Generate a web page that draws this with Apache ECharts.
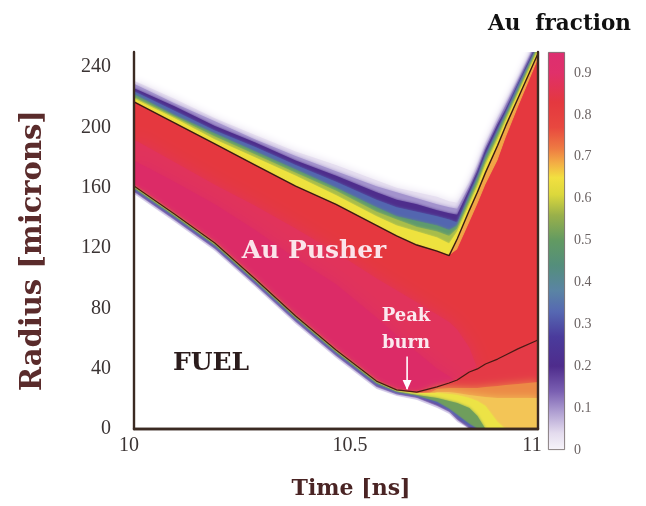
<!DOCTYPE html>
<html><head><meta charset="utf-8">
<script src="https://cdn.jsdelivr.net/npm/echarts@6/dist/echarts.min.js"></script>
<style>html,body{margin:0;padding:0;background:#fff}#c{width:646px;height:506px}</style>
</head><body><div id="c"></div>
<script>
// ---- data (time in ns, radius in microns) ----
const times = [10, 10.1, 10.2, 10.3, 10.4, 10.5, 10.6, 10.65, 10.7, 10.75, 10.78, 10.8, 10.83, 10.85, 10.87, 10.9, 10.92, 10.95, 11];
// contours of Au fraction, outside -> pusher (upper side)
const outerEdge      = [231, 219, 206, 195, 184, 175, 165, 160, 157, 154, 151, 150, 164, 176, 190, 207, 217, 233, 260];
const fringeLav      = [229, 216, 204, 192, 181, 171, 161, 157, 153, 149, 147, 146, 161, 173, 187, 204, 215, 231, 259];
const fringePurple   = [226, 214, 201, 190, 178, 168, 157, 152, 149, 145, 143, 142, 159, 171, 185, 202, 212, 229, 257];
const fringeBlue     = [224, 211, 198, 187, 175, 164, 152, 147, 144, 141, 139, 137, 156, 168, 182, 199, 210, 228, 255];
const fringeGreen    = [222, 208, 196, 184, 172, 160, 147, 141, 138, 135, 132, 135, 154, 166, 180, 197, 208, 225, 254];
const fringeLime     = [220, 207, 194, 182, 170, 158, 144, 139, 134, 131, 128, 133, 151, 163, 177, 194, 206, 223, 253];
const fringeYellow   = [219, 206, 192, 180, 168, 155, 141, 135, 131, 127, 123, 131, 149, 161, 175, 192, 204, 222, 251];
const outerInterface = [217, 203, 189, 175, 161, 149, 135, 128, 122, 118, 115, 126, 145, 157, 170, 188, 201, 219, 249];
const pusherRed      = [217, 203, 189, 175, 161, 149, 135, 128, 122, 118, 115, 119, 137, 149, 162, 178, 193, 213, 245];
const pusherPink     = [192, 177, 162, 148, 133, 117, 100, 92, 84, 76, 71, 66, 54, 40, 0, 0, 0, 0, 0];
const pusherMagenta  = [178, 164, 149, 132, 113, 96, 74, 62, 51, 40, 35, 31, 0, 0, 0, 0, 0, 0, 0];
// fuel / pusher interface and the mix layer below it
const innerInterface = [161.1, 142.6, 123.3, 99.5, 74.9, 52.4, 31.8, 25.9, 24.5, 27.9, 30.5, 32.5, 37.8, 39.8, 43.1, 46.4, 49.1, 53.1, 59.0];
const mixOrange      = [155.8, 137.3, 118.0, 94.2, 69.6, 47.1, 26.5, 21.9, 19.2, 26.5, 27.2, 27.2, 27.2, 27.2, 27.9, 28.5, 29.2, 29.8, 31.2];
const mixAmber       = [155.8, 137.3, 118.0, 94.2, 69.6, 47.1, 26.5, 21.9, 19.2, 24.5, 24.5, 23.9, 22.5, 21.9, 21.2, 20.6, 20.6, 20.6, 20.6];
const mixYellow      = [161.1, 142.6, 123.3, 99.5, 74.9, 52.4, 31.8, 25.5, 23.9, 23.9, 23.2, 22.5, 20.6, 18.6, 15.3, 4.6, 0, 0, 0];
const mixGreen       = [160.1, 141.6, 122.3, 98.5, 73.9, 51.4, 30.8, 24.9, 22.5, 20.6, 18.6, 17.2, 13.9, 8.6, 0, 0, 0, 0, 0];
const mixBlue        = [159.2, 140.6, 121.4, 97.5, 72.9, 50.4, 29.8, 24.2, 21.9, 17.9, 13.3, 9.3, 3.3, 0, 0, 0, 0, 0, 0];
const mixPurple      = [158.2, 139.6, 120.4, 96.5, 71.9, 49.4, 28.8, 23.5, 21.2, 16.6, 11.9, 7.3, 1.3, 0, 0, 0, 0, 0, 0];
const mixLav         = [157.2, 138.6, 119.4, 95.5, 71.0, 48.4, 27.9, 22.9, 20.6, 15.3, 11.3, 6.0, 0, 0, 0, 0, 0, 0, 0];
const fuelEdge       = [155.8, 137.3, 118.0, 94.2, 69.6, 47.1, 26.5, 21.9, 19.2, 13.9, 9.9, 4.6, 0, 0, 0, 0, 0, 0, 0];
// peak burn marker (time, radius from -> to)
const peakBurnTime = 10.676;
const peakBurnArrow = [48, 26.5];
// axis tick labels
const xTicks = [10, 10.5, 11];
const yTicks = [0, 40, 80, 120, 160, 200, 240];
const fracTicks = [0, 0.1, 0.2, 0.3, 0.4, 0.5, 0.6, 0.7, 0.8, 0.9];
// colour scale of Au fraction
const fracStops  = [0, 0.04, 0.09, 0.14, 0.2, 0.27, 0.33, 0.38, 0.44, 0.5, 0.56, 0.61, 0.65, 0.685, 0.72, 0.77, 0.83, 0.9, 0.95];
const fracColors = ['#f7f4fa','#e4dcee','#b0a0d2','#7a5fb2','#4e2c8c','#4a3b9c','#5668b2','#5a84a4','#548e7c','#629a62','#99b04a','#dcd83c','#f2e040','#f3ad45','#ee7a42','#e8483f','#e4383f','#e0306a','#dd2e70'];

// ---- layers painted from the outside inwards: [contour, colour, edge softness] ----
const layers = [
  [outerEdge, '#e6dff0', 8], [fringeLav, '#a393cd', 4], [fringePurple, '#4e2d8c', 3], [fringeBlue, '#5366b0', 3],
  [fringeGreen, '#5e9a6e', 3], [fringeLime, '#a8bd4a', 3], [fringeYellow, '#eee23e', 2], [outerInterface, '#f1a546', 2],
  [pusherRed, '#e5383f', 1], [pusherPink, '#e1335b', 16], [pusherMagenta, '#dc2b67', 16],
  [innerInterface, '#e43a46', 4], [mixOrange, '#ec8a46', 10], [mixAmber, '#f3c556', 9], [mixYellow, '#ece346', 2],
  [mixGreen, '#6f9e5c', 3], [mixBlue, '#5661ae', 2], [mixPurple, '#5b3d97', 2], [mixLav, '#c4b8e0', 3], [fuelEdge, '#ffffff', 3]
];
const pts = arr => times.map((t, i) => [t, arr[i]]);
const series = layers.map((l, i) => ({
  type: 'line', data: pts(l[0]), xAxisIndex: 0, yAxisIndex: 0, symbol: 'none', silent: true,
  z: 2 + i, lineStyle: { width: 0, opacity: 0 },
  areaStyle: { color: l[1], opacity: 1, origin: 'start', shadowBlur: l[2], shadowColor: l[1] }
}));
series.push({
  type: 'line', data: pts(outerInterface), xAxisIndex: 0, yAxisIndex: 0, symbol: 'none', silent: true,
  z: 40, lineStyle: { color: '#3a1c12', width: 1.4 }
});
series.push({
  type: 'line', data: pts(innerInterface), xAxisIndex: 0, yAxisIndex: 0, symbol: 'none', silent: true,
  z: 41, lineStyle: { color: '#4a1a14', width: 1.3 }
});
series.push({
  type: 'line', xAxisIndex: 0, yAxisIndex: 0, silent: true, z: 42, showSymbol: true,
  lineStyle: { color: '#ffffff', width: 1.6 }, itemStyle: { color: '#ffffff' },
  data: [
    { value: [peakBurnTime, peakBurnArrow[0]], symbol: 'none' },
    { value: [peakBurnTime, peakBurnArrow[1]], symbol: 'triangle', symbolSize: [9, 10], symbolRotate: 180, symbolOffset: [0, -4] }
  ]
});
series.push({
  type: 'bar', xAxisIndex: 2, yAxisIndex: 2, data: [fracStops[fracStops.length - 1]], barWidth: '100%', silent: true,
  itemStyle: {
    borderColor: '#6a6060', borderWidth: 0.8,
    color: new echarts.graphic.LinearGradient(0, 1, 0, 0,
      fracStops.map((v, i) => ({ offset: v / fracStops[fracStops.length - 1], color: fracColors[i] })))
  }
});

const frame = { show: true, lineStyle: { color: '#3b2a22', width: 2.4 } };
const tickFont = { fontFamily: 'Liberation Serif', fontSize: 20, color: '#3b3434' };
const chart = echarts.init(document.getElementById('c'), null, { renderer: 'canvas' });
chart.setOption({
  animation: false,
  backgroundColor: '#ffffff',
  title: {
    text: 'Au  fraction', left: 483, top: 8,
    textStyle: { fontFamily: 'DejaVu Serif', fontWeight: 'bold', fontSize: 21.5, color: '#111' }
  },
  grid: [
    { left: 134, top: 52, width: 404, height: 377, outerBoundsMode: 'none', containLabel: false },
    { left: 548, top: 52, width: 17, height: 398, outerBoundsMode: 'none', containLabel: false }
  ],
  xAxis: [
    {
      gridIndex: 0, type: 'value', min: xTicks[0], max: xTicks[xTicks.length - 1], interval: 0.5, z: 100,
      axisLine: frame, axisTick: { show: false }, splitLine: { show: false },
      axisLabel: {
        margin: 7,
        formatter: v => Math.abs(v - 10) < 1e-6 ? '{a|10}' : (Math.abs(v - 10.5) < 1e-6 ? '{b|10.5}' : '{c|11}'),
        rich: {
          a: Object.assign({ padding: [0, 10, 0, 0] }, tickFont),
          b: Object.assign({ padding: [0, 0, 0, 28] }, tickFont),
          c: Object.assign({ padding: [0, 12, 0, 0] }, tickFont)
        }
      },
      name: 'Time [ns]', nameLocation: 'middle', nameGap: 49,
      nameTextStyle: { fontFamily: 'DejaVu Serif', fontWeight: 'bold', fontSize: 22, color: '#4a2424', padding: [0, 0, 0, 30] }
    },
    {
      gridIndex: 0, type: 'value', position: 'top', min: 10, max: 11, z: 100,
      axisLine: frame, axisTick: { show: false }, axisLabel: { show: false }, splitLine: { show: false }
    },
    { gridIndex: 1, type: 'category', data: ['Au'], show: false }
  ],
  yAxis: [
    {
      gridIndex: 0, type: 'value', min: 0, max: 250, interval: 40, z: 100,
      axisLine: frame, axisTick: { show: false }, splitLine: { show: false },
      axisLabel: Object.assign({ margin: 23, showMaxLabel: false,
        formatter: v => yTicks.indexOf(v) >= 0 ? String(v) : '' }, tickFont),
      name: 'Radius [microns]', nameLocation: 'middle', nameGap: 86,
      nameTextStyle: { fontFamily: 'DejaVu Serif', fontWeight: 'bold', fontSize: 29, color: '#5a2b2b', padding: [0, 20, 0, 0] }
    },
    {
      gridIndex: 0, type: 'value', position: 'right', min: 0, max: 250, z: 100,
      axisLine: frame, axisTick: { show: false }, axisLabel: { show: false }, splitLine: { show: false }
    },
    {
      gridIndex: 1, type: 'value', position: 'right', min: 0, max: 0.95, interval: 0.1,
      axisLine: { show: false }, axisTick: { show: false }, splitLine: { show: false },
      axisLabel: {
        margin: 9, showMaxLabel: false, fontFamily: 'Liberation Serif', fontSize: 14, color: '#6b6363',
        formatter: v => fracTicks.some(f => Math.abs(f - v) < 1e-6) ? String(Math.round(v * 10) / 10) : ''
      }
    }
  ],
  graphic: [
    { type: 'text', z: 200, silent: true, style: { text: 'Au Pusher', x: 314, y: 251, textAlign: 'center', textVerticalAlign: 'middle', align: 'center', verticalAlign: 'middle', fill: '#fbe4ea', font: 'bold 25px "DejaVu Serif"' } },
    { type: 'text', z: 200, silent: true, style: { text: 'FUEL', x: 211, y: 363, textAlign: 'center', textVerticalAlign: 'middle', align: 'center', verticalAlign: 'middle', fill: '#2b1c1c', font: 'bold 25px "DejaVu Serif"' } },
    { type: 'text', z: 200, silent: true, style: { text: 'Peak', x: 406, y: 316, textAlign: 'center', textVerticalAlign: 'middle', align: 'center', verticalAlign: 'middle', fill: '#fbe9ef', font: 'bold 18px "DejaVu Serif"' } },
    { type: 'text', z: 200, silent: true, style: { text: 'burn', x: 406, y: 343, textAlign: 'center', textVerticalAlign: 'middle', align: 'center', verticalAlign: 'middle', fill: '#fbe9ef', font: 'bold 18px "DejaVu Serif"' } }
  ],
  series: series
});
</script></body></html>
